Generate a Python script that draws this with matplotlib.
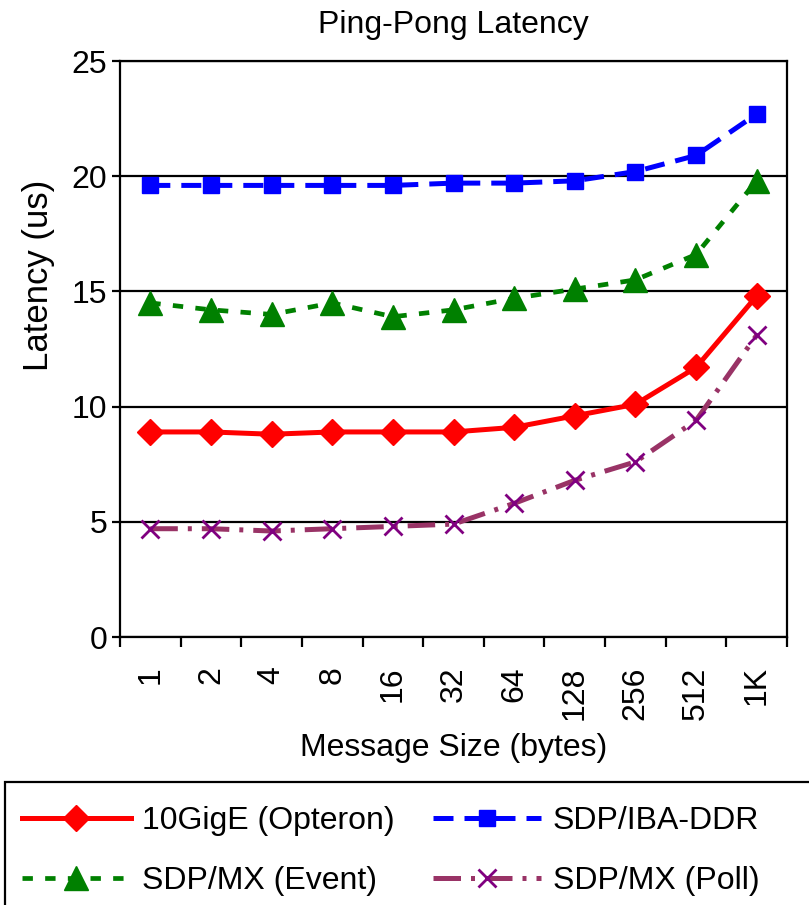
import numpy as np
import matplotlib.pyplot as plt
from matplotlib.patches import Rectangle

plt.rcParams['font.family'] = ['Liberation Sans', 'DejaVu Sans']

# --- data ---
sizes = ['1', '2', '4', '8', '16', '32', '64', '128', '256', '512', '1K']
gige_opteron = [8.9, 8.9, 8.8, 8.9, 8.9, 8.9, 9.1, 9.6, 10.1, 11.7, 14.8]
sdp_iba_ddr = [19.6, 19.6, 19.6, 19.6, 19.6, 19.7, 19.7, 19.8, 20.2, 20.9, 22.7]
sdp_mx_event = [14.5, 14.2, 14.0, 14.5, 13.9, 14.2, 14.7, 15.1, 15.5, 16.6, 19.8]
sdp_mx_poll = [4.7, 4.7, 4.6, 4.7, 4.8, 4.9, 5.8, 6.8, 7.6, 9.4, 13.1]


def main():
    W, H = 809, 905
    fig = plt.figure(figsize=(W / 100, H / 100), dpi=100)
    ax = fig.add_axes([120 / W, 1 - 637 / H, 667 / W, 576 / H])

    x = np.arange(len(sizes))
    l1, = ax.plot(x, gige_opteron, color='#ff0000', lw=3.6, marker='D', ms=13,
                  label='10GigE (Opteron)', zorder=4)
    l2, = ax.plot(x, sdp_iba_ddr, color='#0000ff', lw=3.6, ls=(0, (4, 2.2)), marker='s', ms=11,
                  label='SDP/IBA-DDR', zorder=4)
    l3, = ax.plot(x, sdp_mx_event, color='#008000', lw=3.4, ls=(0, (2.2, 2.6)), marker='^', ms=17,
                  label='SDP/MX (Event)', zorder=4)
    l4, = ax.plot(x, sdp_mx_poll, color='#993366', lw=3.6, ls=(0, (5.5, 2, 0.8, 2)), marker='x', ms=13,
                  mec='#800080', mew=2, label='SDP/MX (Poll)', zorder=4)

    ax.set_xlim(-0.5, len(sizes) - 0.5)
    ax.set_ylim(0, 25)
    ax.set_yticks([0, 5, 10, 15, 20, 25])
    ax.yaxis.grid(True, color='black', lw=1.6)
    ax.set_axisbelow(True)

    ax.set_xticks(x)
    ax.set_xticklabels(sizes, rotation=90)
    ax.set_xticks(np.arange(len(sizes) + 1) - 0.5, minor=True)
    ax.tick_params(axis='x', which='major', length=0, labelsize=23, pad=21)
    ax.tick_params(axis='x', which='minor', length=7, width=1.6, direction='out')
    ax.tick_params(axis='y', length=6, width=1.6, labelsize=23, pad=3)
    for sp in ax.spines.values():
        sp.set_linewidth(1.6)

    ax.set_ylabel('Latency (us)', fontsize=25)
    ax.yaxis.set_label_coords(-0.098, 0.628)
    ax.set_xlabel('Message Size (bytes)', fontsize=23, labelpad=10)
    ax.set_title('Ping-Pong Latency', fontsize=23, pad=20)

    # legend box spanning the figure bottom
    fig.patches.append(Rectangle((5 / W, -0.02), 1.0, 1 - 782 / H + 0.02,
                                 transform=fig.transFigure, fill=False,
                                 edgecolor='black', lw=1.6))
    fig.legend([l1, l3, l2, l4],
               ['10GigE (Opteron)', 'SDP/MX (Event)', 'SDP/IBA-DDR', 'SDP/MX (Poll)'],
               loc='upper left', bbox_to_anchor=(22 / W, 1 - 806 / H), ncol=2,
               fontsize=23, frameon=False, handlelength=3.4, handletextpad=0.35,
               borderaxespad=0, borderpad=0, labelspacing=0.95, columnspacing=1.2)

    fig.savefig('out.png', dpi=100)
    plt.close(fig)


if __name__ == "__main__":
    main()
